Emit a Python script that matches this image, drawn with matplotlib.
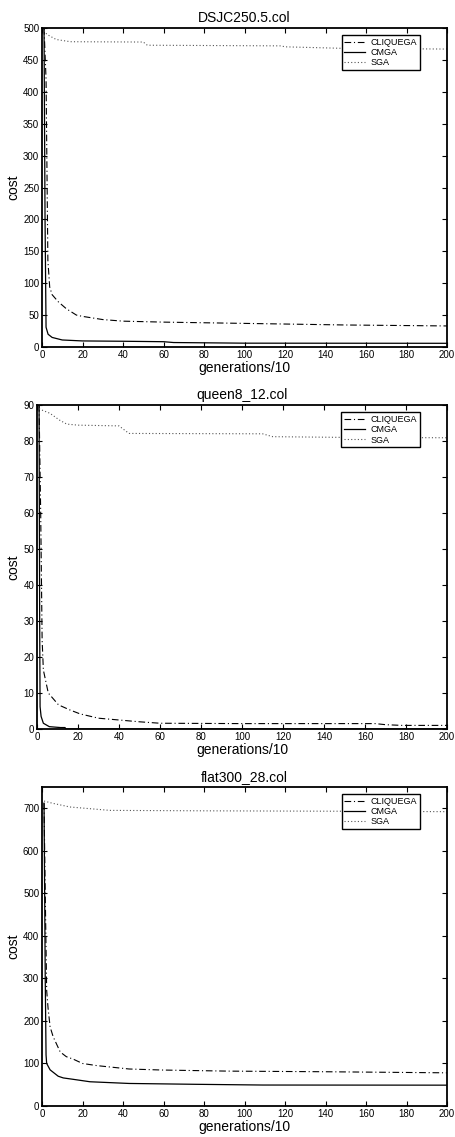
import numpy as np
import matplotlib
matplotlib.use('Agg')
import matplotlib.pyplot as plt

plt.rcParams['font.family'] = ['Liberation Sans', 'DejaVu Sans']

# ==============================================================================
# DADOS (custo x geracoes/10)
# ==============================================================================
series_names = ['CLIQUEGA', 'CMGA', 'SGA']
titles = ['DSJC250.5.col', 'queen8_12.col', 'flat300_28.col']

# --- DSJC250.5.col ---
dsjc_cli_x = [1, 2, 2.9, 3.8, 5, 8, 12, 17, 20, 30, 40, 60, 80, 100, 120, 150, 200]
dsjc_cli_y = [500, 420, 136, 94, 82, 71, 60, 50, 48, 43, 40.5, 39, 38, 37, 36, 34.5, 33]
dsjc_cm_x = [1, 1.5, 2, 3, 5, 10, 20, 40, 60, 65, 100, 200]
dsjc_cm_y = [500, 200, 31, 20, 15, 11, 9.5, 9, 8.3, 7, 6, 5.8]
dsjc_sga_x = [1, 2.4, 7, 14, 50, 52, 118, 120, 150, 200]
dsjc_sga_y = [496, 490, 482, 478.5, 478, 473, 472, 470.5, 468, 467]

# --- queen8_12.col ---
queen_cli_x = [1, 1.8, 2.5, 3.1, 5.5, 10.5, 16, 21, 30, 40, 50, 60, 100, 165, 170, 178, 200]
queen_cli_y = [90, 60, 24.7, 16.4, 10, 6.7, 5.3, 4.2, 3.0, 2.5, 2.0, 1.6, 1.5, 1.5, 1.2, 1.0, 1.0]
queen_cm_x = [1, 1.3, 1.5, 2, 3.1, 6, 11.5, 13.7, 14, 200]
queen_cm_y = [90, 30, 6.2, 3.5, 1.6, 0.65, 0.4, 0.4, 0, 0]
queen_sga_x = [1, 1.5, 6.3, 11, 14.5, 20, 40, 43.7, 45, 110, 115, 150, 200]
queen_sga_y = [89, 88.8, 87.7, 85.8, 84.7, 84.4, 84.2, 82.6, 82.1, 82.0, 81.2, 81.0, 80.9]

# --- flat300_28.col ---
flat_cli_x = [1, 1.6, 2.3, 3, 4, 5.5, 9, 12, 15.5, 20, 27, 43, 59, 92, 141, 200]
flat_cli_y = [712, 500, 272, 230, 186, 163, 127, 116, 110, 100, 95, 87, 84.6, 82, 80.5, 78]
flat_cm_x = [1, 1.6, 2, 2.3, 4, 8, 10.5, 15, 23.7, 43, 76, 109, 200]
flat_cm_y = [712, 300, 120, 100, 85, 70, 66, 63, 57, 53, 51, 49.3, 49]
flat_sga_x = [1, 5, 13.8, 33.6, 80, 150, 200]
flat_sga_y = [717, 712, 703, 695, 694, 693, 692]

paineis = [
    ((dsjc_cli_x, dsjc_cli_y), (dsjc_cm_x, dsjc_cm_y), (dsjc_sga_x, dsjc_sga_y)),
    ((queen_cli_x, queen_cli_y), (queen_cm_x, queen_cm_y), (queen_sga_x, queen_sga_y)),
    ((flat_cli_x, flat_cli_y), (flat_cm_x, flat_cm_y), (flat_sga_x, flat_sga_y)),
]
ylims = [500, 90, 750]
ysteps = [50, 10, 100]
yticks_max = [500, 90, 700]

# posicoes dos eixos [left, bottom, width, height] em fracao da figura
posicoes = [
    [42/455, 1 - 347/1137, 405/455, 319/1137],
    [37/455, 1 - 729/1137, 410/455, 324/1137],
    [42/455, 1 - 1106/1137, 405/455, 319/1137],
]

estilos = [
    dict(linestyle=(0, (6, 2.5, 1, 2.5)), color='black', linewidth=0.8),
    dict(linestyle='-', color='black', linewidth=0.9),
    dict(linestyle=(0, (1, 2)), color='#555555', linewidth=0.8),
]

fig = plt.figure(figsize=(4.55, 11.37), dpi=100)

for i in range(3):
    ax = fig.add_axes(posicoes[i])
    for (xs, ys), nome, st in zip(paineis[i], series_names, estilos):
        ax.plot(xs, ys, label=nome, **st)

    ax.set_xlim(0, 200)
    ax.set_ylim(0, ylims[i])
    ax.set_xticks(np.arange(0, 201, 20))
    ax.set_yticks(np.arange(0, yticks_max[i] + 1, ysteps[i]))
    ax.tick_params(direction='in', top=True, right=True, length=3.5,
                   width=0.8, labelsize=7, pad=2)
    for sp in ax.spines.values():
        sp.set_linewidth(1.3)

    ax.set_title(titles[i], fontsize=10, pad=4)
    ax.set_xlabel('generations/10', fontsize=10, labelpad=1)
    ax.set_ylabel('cost', fontsize=10, labelpad=2)

    leg = ax.legend(loc='upper right', bbox_to_anchor=(0.933, 0.978),
                    borderaxespad=0, fontsize=6.5, handlelength=2.3,
                    labelspacing=0.15, borderpad=0.3, handletextpad=0.6,
                    fancybox=False, framealpha=1)
    leg.get_frame().set_edgecolor('black')
    leg.get_frame().set_linewidth(1.0)

plt.savefig('out.png', dpi=100)
plt.close()
